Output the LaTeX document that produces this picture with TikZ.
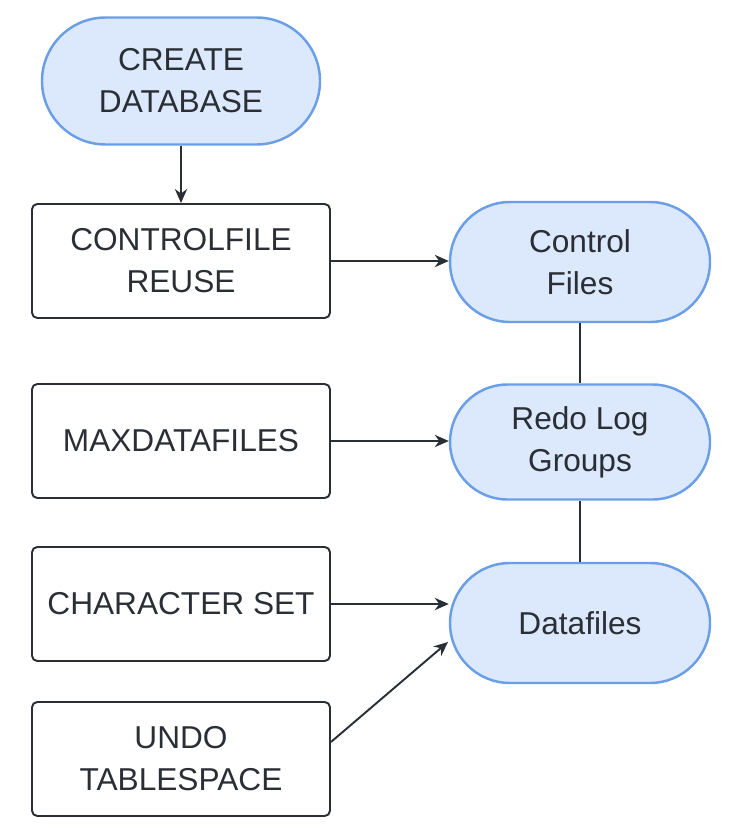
\documentclass[tikz,border=0pt]{standalone}
\usepackage{fontspec}
\setmainfont{Liberation Sans}
\usetikzlibrary{arrows.meta}
\definecolor{pillfill}{HTML}{DCE8FB}
\definecolor{pilldraw}{HTML}{6A9FE8}
\definecolor{ink}{HTML}{2A2F36}
\tikzset{
  box/.style={draw=ink, line width=1.1pt, rounded corners=3pt, minimum width=5.96cm, minimum height=2.28cm, align=center, text=ink, font=\fontsize{18}{24}\selectfont},
  pill/.style={draw=pilldraw, fill=pillfill, line width=1.4pt, rounded corners=1.2cm, minimum width=5.2cm, minimum height=2.4cm, align=center, text=ink, font=\fontsize{18}{24}\selectfont},
  arr/.style={-{Stealth[length=8pt,width=7pt]}, line width=1.1pt, draw=ink},
  link/.style={line width=1.1pt, draw=ink}
}
\begin{document}
\begin{tikzpicture}
\useasboundingbox (0,0) rectangle (14.78,-16.78);
\node[pill, minimum width=5.56cm, minimum height=2.54cm, rounded corners=1.27cm] (cdb) at (3.62,-1.62) {CREATE\\DATABASE};
\node[box] (cfr) at (3.62,-5.22) {CONTROLFILE\\REUSE};
\node[box] (mdf) at (3.62,-8.82) {MAXDATAFILES};
\node[box] (cs) at (3.62,-12.08) {CHARACTER SET};
\node[box] (ut) at (3.62,-15.18) {UNDO\\TABLESPACE};
\node[pill] (cf) at (11.6,-5.24) {Control\\Files};
\node[pill, minimum height=2.3cm, rounded corners=1.15cm] (rlg) at (11.6,-8.84) {Redo Log\\Groups};
\node[pill] (df) at (11.6,-12.46) {Datafiles};
\draw[arr] (cdb) -- (cfr);
\draw[arr] (cfr) -- (cf.west |- cfr);
\draw[arr] (mdf) -- (rlg.west |- mdf);
\draw[arr] (cs) -- (cs -| df.west);
\draw[arr] (ut.east |- 0,-14.84) -- (8.96,-12.84);
\draw[link] (cf) -- (rlg);
\draw[link] (rlg) -- (df);
\end{tikzpicture}
\end{document}
